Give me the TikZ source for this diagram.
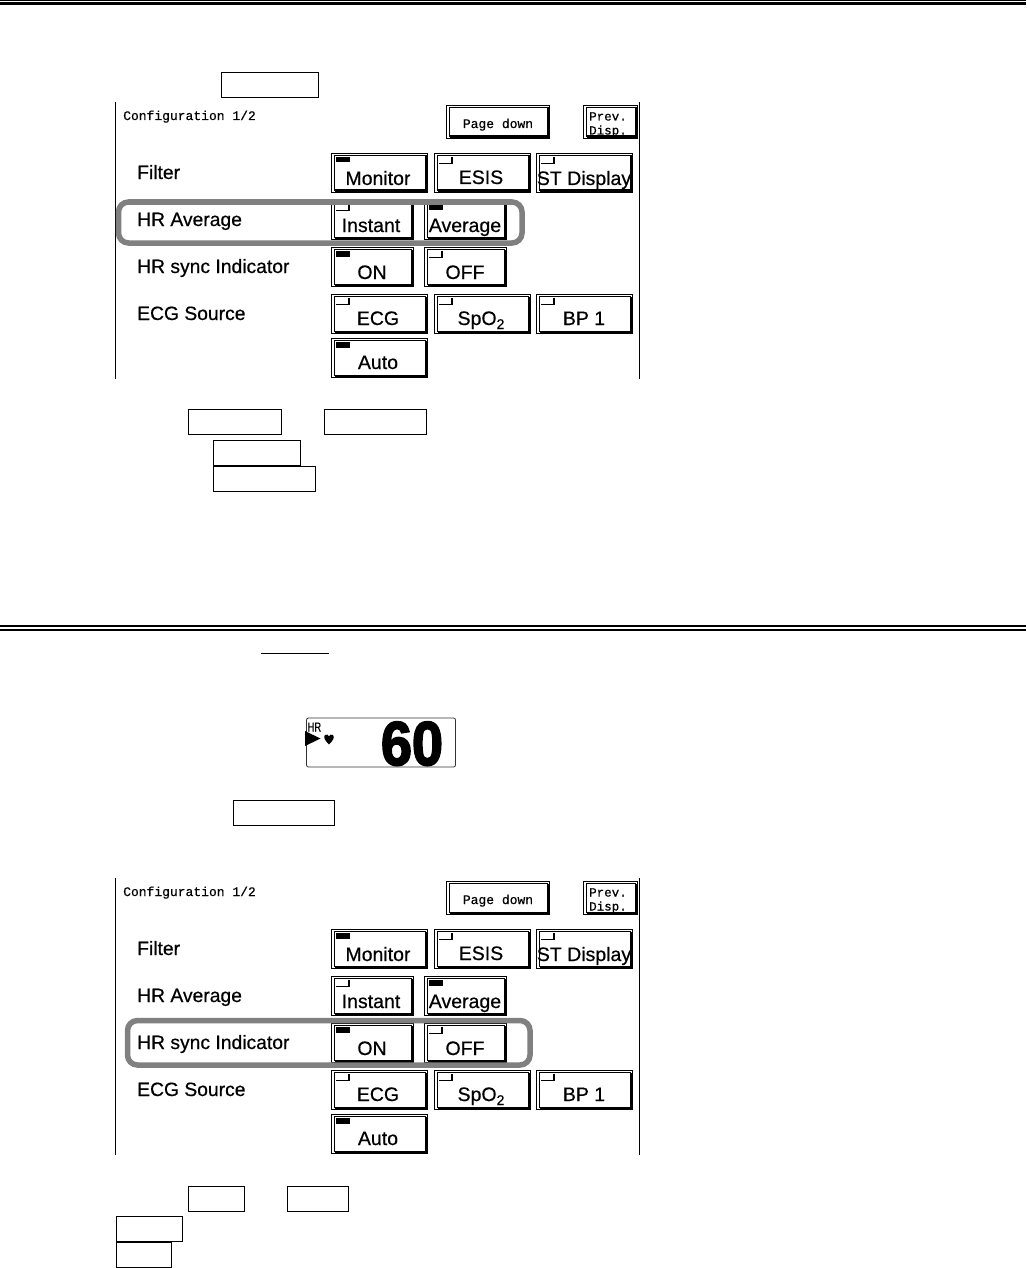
\documentclass[tikz,border=0pt]{standalone}
\usepackage{fontspec}
\setmainfont{Liberation Sans}[RawFeature={embolden=0.5}]
\newfontfamily\scrmono{Liberation Mono}[RawFeature={embolden=0.6}]
\newfontfamily\figfont{Liberation Sans Bold}[RawFeature={embolden=3}]
\tikzset{
  x=1pt,y=-1pt,
  keybox/.style={draw=black,line width=1pt,fill=white},
  lab/.style={anchor=base west,inner sep=0pt,font=\fontsize{19.3}{19.3}\selectfont},
  btxt/.style={anchor=base,inner sep=0pt,font=\fontsize{19.5}{19.5}\selectfont},
  mono/.style={anchor=base,inner sep=0pt,font=\scrmono\fontsize{13}{13}\selectfont},
  ring/.style={draw=black!50,line width=5.5pt,rounded corners=10pt},
  rulethin/.style={fill=black}
}
\newcommand{\btnframe}[4]{%
  \fill[white] (#1,#2) rectangle (#3,#4);
  \draw[line width=.9pt] (#1-.5,#2-.5) rectangle (#3,#4);
  \draw[line width=.9pt] (#1+2.5,#4-1) -- (#1+2.5,#2+1.5) -- (#3-1,#2+1.5);
  \fill (#3-2.5,#2+1.5) rectangle (#3+.5,#4+.5);
  \fill (#1+2.5,#4-2.5) rectangle (#3+.5,#4+.5);
}
\newcommand{\ledon}[2]{\fill (#1+4,#2+3) rectangle (#1+18,#2+8.5);}
\newcommand{\ledoff}[2]{\draw[line width=1.1pt] (#1+4,#2+9.5) -- (#1+17,#2+9.5) -- (#1+17,#2+3);}
\newcommand{\screenpanel}[1]{%
  \draw[line width=1pt] (115.5,102) -- (115.5,379);
  \draw[line width=1pt] (639.5,102) -- (639.5,379);
  \node[mono,anchor=base west] (#1cfg) at (123,120) {Configuration 1/2};
  \btnframe{447}{106}{549}{138}
  \node[mono] (#1pd) at (498,128) {Page down};
  \btnframe{584}{106}{637}{138}
  \node[mono,font=\scrmono\fontsize{12.5}{12.5}\selectfont] (#1pv) at (608,120.5) {Prev.};
  \node[mono,font=\scrmono\fontsize{12.5}{12.5}\selectfont] (#1ds) at (608,134.5) {Disp.};
  \node[lab] (#1a) at (137,179) {Filter};
  \node[lab] (#1b) at (137,226) {HR Average};
  \node[lab] (#1c) at (137,273) {HR sync Indicator};
  \node[lab] (#1d) at (137,320) {ECG Source};
  \btnframe{332}{154}{427}{192}\ledon{332}{154}
  \node[btxt] (#1b1) at (378,185) {Monitor};
  \btnframe{435}{154}{530}{192}\ledoff{435}{154}
  \node[btxt] (#1b2) at (481,184) {ESIS};
  \btnframe{537}{154}{632}{192}\ledoff{537}{154}
  \node[btxt] (#1b3) at (584,185) {ST Display};
  \btnframe{332}{201}{413}{239}\ledoff{332}{201}
  \node[btxt] (#1b4) at (371,232) {Instant};
  \btnframe{425}{201}{506}{239}\ledon{425}{201}
  \node[btxt] (#1b5) at (465,232) {Average};
  \btnframe{332}{248}{413}{286}\ledon{332}{248}
  \node[btxt] (#1b6) at (372,279) {ON};
  \btnframe{425}{248}{506}{286}\ledoff{425}{248}
  \node[btxt] (#1b7) at (465,279) {OFF};
  \btnframe{332}{295}{427}{333}\ledoff{332}{295}
  \node[btxt] (#1b8) at (378,325) {ECG};
  \btnframe{435}{295}{530}{333}\ledoff{435}{295}
  \node[btxt] (#1b9) at (481,325) {SpO\raisebox{-4pt}{\fontsize{14}{14}\selectfont 2}};
  \btnframe{537}{295}{632}{333}\ledoff{537}{295}
  \node[btxt] (#1b10) at (584,325) {BP 1};
  \btnframe{332}{339}{427}{377}\ledon{332}{339}
  \node[btxt] (#1b11) at (378,369) {Auto};
}
\begin{document}
\begin{tikzpicture}
\useasboundingbox (0,0) rectangle (1026,1268);
\fill[white] (0,0) rectangle (1026,1268);
% rules
\fill[rulethin] (0,0) rectangle (1026,1);
\fill[rulethin] (0,2) rectangle (1026,5);
\fill[rulethin] (0,625) rectangle (1026,626.5);
\fill[rulethin] (0,628.5) rectangle (1026,631);
% key boxes
\draw[keybox] (221,72.5) rectangle (318,97.5);
\draw[keybox] (188.5,409.5) rectangle (281.5,434.5);
\draw[keybox] (324.5,409.5) rectangle (426.5,434.5);
\draw[keybox] (213.5,440.5) rectangle (300.5,465.5);
\draw[keybox] (213.5,466.5) rectangle (315.5,491.5);
\draw[keybox] (233,800.5) rectangle (334.5,825.5);
\draw[keybox] (188.5,1186.5) rectangle (244.5,1211.5);
\draw[keybox] (287.5,1186.5) rectangle (348.5,1211.5);
\draw[keybox] (116.5,1216.5) rectangle (182.5,1241.5);
\draw[keybox] (116.5,1242.5) rectangle (171.5,1267.5);
% underline
\draw[line width=1pt] (261,653.5) -- (329,653.5);
% panels
\screenpanel{p}
\begin{scope}[yshift=-776pt]
\screenpanel{q}
\end{scope}
\draw[ring] (118.5,202) rectangle (522,243);
\draw[ring] (127.5,1020.5) rectangle (530,1065);
% HR display
\draw[line width=.8pt,rounded corners=2pt,draw=black!80] (306.5,718) rectangle (455.5,767);
\node[anchor=base west,inner sep=0pt,font=\fontsize{13}{13}\selectfont,xscale=.72] (hr) at (307.5,731.5) {HR};
\fill (305,731) -- (320.5,738.5) -- (305,746) -- cycle;
\fill (329,744.5) .. controls (325,740.5) and (323,737.5) .. (325,735) .. controls (327,733.5) and (328.5,735) .. (329,736.5) .. controls (329.5,735) and (331,733.5) .. (333,735) .. controls (335,737.5) and (333,740.5) .. (329,744.5) -- cycle;
\node[anchor=base,inner sep=0pt,font=\figfont\fontsize{62}{62}\selectfont,xscale=.9] (sixty) at (412,765) {60};
\end{tikzpicture}
\end{document}
